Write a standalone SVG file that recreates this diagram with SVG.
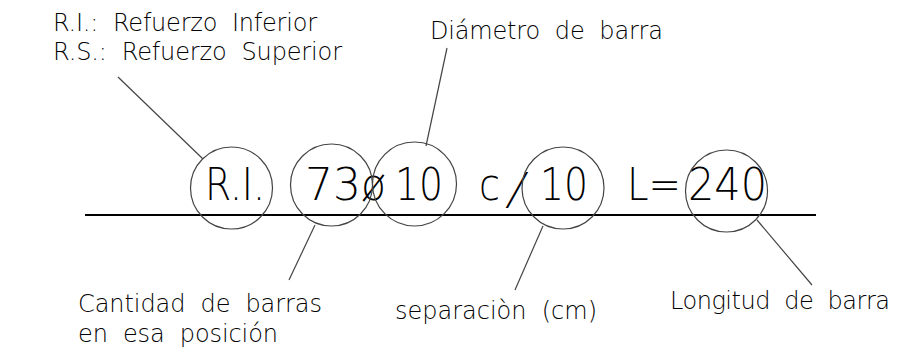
<svg xmlns="http://www.w3.org/2000/svg" width="916" height="357" viewBox="0 0 916 357">
<style>
.t{font-family:"DejaVu Sans","Liberation Sans",sans-serif;font-weight:200;fill:#000;white-space:pre}
.s{font-size:24px}
.b{font-size:44px}
.c{fill:none;stroke:#444;stroke-width:1.2}
.l{stroke:#444;stroke-width:1.2;fill:none}
</style>
<rect width="916" height="357" fill="#fff"/>
<g id="base">
<line x1="85" y1="215" x2="816" y2="215" stroke="#000" stroke-width="2"/>
</g>
<g id="code">
<text class="t b" x="205" y="200" textLength="60" lengthAdjust="spacingAndGlyphs">R.I.</text>
<text class="t b" x="305" y="200" textLength="56" lengthAdjust="spacingAndGlyphs">73</text>
<text class="t b" x="361" y="200" textLength="25" lengthAdjust="spacingAndGlyphs">ø</text>
<text class="t b" x="395" y="200" textLength="48" lengthAdjust="spacingAndGlyphs">10</text>
<text class="t b" x="479" y="200" textLength="21" lengthAdjust="spacingAndGlyphs">c</text>
<text class="t b" transform="translate(506,204) skewX(-14)" x="0" y="0">/</text>
<text class="t b" x="540" y="200" textLength="48" lengthAdjust="spacingAndGlyphs">10</text>
<text class="t b" x="627" y="200" textLength="54" lengthAdjust="spacingAndGlyphs">L=</text>
<text class="t b" x="688" y="200" textLength="79" lengthAdjust="spacingAndGlyphs">240</text>
</g>
<g id="circle-ri"><circle class="c" cx="231.5" cy="188" r="41"/></g>
<g id="circle-cant"><circle class="c" cx="331.5" cy="185" r="41"/></g>
<g id="circle-diam"><circle class="c" cx="414.5" cy="184" r="42"/></g>
<g id="circle-sep"><circle class="c" cx="563" cy="188" r="41"/></g>
<g id="circle-long"><circle class="c" cx="726.5" cy="191" r="41"/></g>
<g id="connectors">
<line class="l" x1="118" y1="77" x2="203" y2="159"/>
<line class="l" x1="315" y1="225" x2="289" y2="280"/>
<line class="l" x1="426" y1="146" x2="447" y2="48"/>
<line class="l" x1="543" y1="226" x2="515" y2="290"/>
<line class="l" x1="757" y1="220" x2="812" y2="285"/>
</g>
<g id="label-refuerzo">
<text class="t s" x="53" y="31" textLength="264" lengthAdjust="spacing">R.I.:  Refuerzo  Inferior</text>
<text class="t s" x="53" y="60" textLength="289" lengthAdjust="spacing">R.S.:  Refuerzo  Superior</text>
</g>
<g id="label-diametro">
<text class="t s" x="430" y="39" textLength="233" lengthAdjust="spacing">Diámetro  de  barra</text>
</g>
<g id="label-cantidad">
<text class="t s" x="78" y="312" textLength="244" lengthAdjust="spacing">Cantidad  de  barras</text>
<text class="t s" x="78" y="342" textLength="200" lengthAdjust="spacing">en  esa  posición</text>
</g>
<g id="label-separacion">
<text class="t s" x="395" y="319" textLength="202" lengthAdjust="spacing">separaciòn  (cm)</text>
</g>
<g id="label-longitud">
<text class="t s" x="670" y="309" textLength="220" lengthAdjust="spacing">Longitud  de  barra</text>
</g>
</svg>
